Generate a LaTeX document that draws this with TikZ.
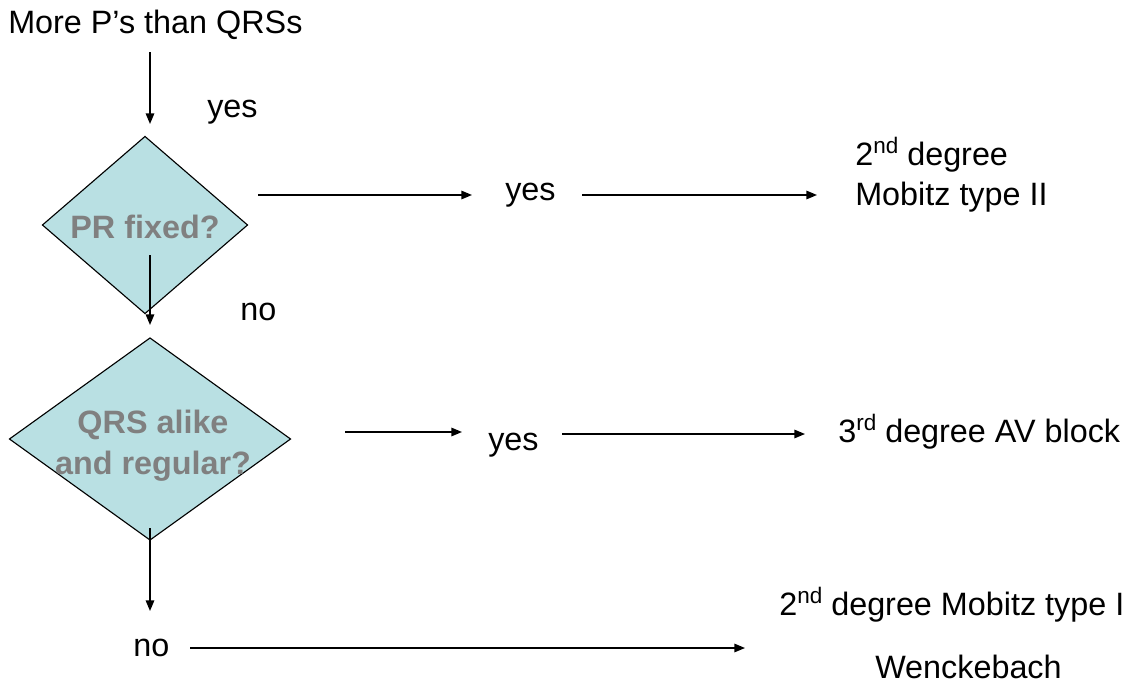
\documentclass[tikz,border=0pt]{standalone}
\usepackage{fontspec}
\setmainfont{Liberation Sans}
\usetikzlibrary{arrows.meta, shapes.geometric}
\definecolor{paleteal}{HTML}{B9E0E3}
\definecolor{querygray}{HTML}{808080}
\newcommand{\ordsup}[1]{\raisebox{0.7ex}{\fontsize{16}{16}\selectfont #1}}

\begin{document}
\begin{tikzpicture}[x=0.025cm, y=-0.025cm,
    lbl/.style={anchor=west, inner sep=0pt, font=\fontsize{23}{28}\selectfont},
    decision/.style={diamond, draw=black, line width=0.8pt, fill=paleteal, inner sep=0pt, outer sep=0pt},
    query/.style={inner sep=0pt, align=center, text=querygray, font=\fontsize{23}{29}\selectfont\bfseries},
    flow/.style={-{Triangle[length=7.5pt, width=6pt]}, line width=1pt}]
  \useasboundingbox (0,0) rectangle (1144,684);

  % Entrada
  \node[lbl] (start) at (8,25) {More P’s than QRSs};
  \node[lbl] (yes0) at (207,112) {yes};

  % Rombos de decision
  \node[decision, minimum width=5.125cm, minimum height=4.425cm] (pr) at (145,225) {};
  \node[query] (prq) at (145,227) {PR fixed?};
  \node[decision, minimum width=7.025cm, minimum height=5.05cm] (qrs) at (150,439) {};
  \node[query] (qrsq) at (153,446) {QRS alike\\and regular?};

  % Etiquetas de las ramas
  \node[lbl] (yes1) at (505,195) {yes};
  \node[lbl] (no1) at (240,312) {no};
  \node[lbl] (yes2) at (488,445) {yes};
  \node[lbl] (no2) at (133,648) {no};

  % Diagnosticos
  \node[lbl] (mob2a) at (855,155) {2\ordsup{nd} degree};
  \node[lbl] (mob2b) at (855,197) {Mobitz type II};
  \node[lbl] (third) at (838,432) {3\ordsup{rd} degree AV block};
  \node[lbl] (mob1) at (779,605) {2\ordsup{nd} degree Mobitz type I};
  \node[lbl] (wenck) at (875,667) {Wenckebach};

  % Extremos de las flechas
  \coordinate (t0) at (150,52);   \coordinate (t1) at (150,124);
  \coordinate (a0) at (258,195);  \coordinate (a1) at (472,195);
  \coordinate (b0) at (582,195);  \coordinate (b1) at (817,195);
  \coordinate (c0) at (150,255);  \coordinate (c1) at (150,325);
  \coordinate (d0) at (345,432);  \coordinate (d1) at (462,432);
  \coordinate (e0) at (562,434);  \coordinate (e1) at (805,434);
  \coordinate (f0) at (150,528);  \coordinate (f1) at (150,611);
  \coordinate (g0) at (190,648);  \coordinate (g1) at (745,648);

  % Flechas
  \draw[flow] (t0) -- (t1);
  \draw[flow] (a0) -- (a1);
  \draw[flow] (b0) -- (b1);
  \draw[flow] (c0) -- (c1);
  \draw[flow] (d0) -- (d1);
  \draw[flow] (e0) -- (e1);
  \draw[flow] (f0) -- (f1);
  \draw[flow] (g0) -- (g1);
\end{tikzpicture}
\end{document}
